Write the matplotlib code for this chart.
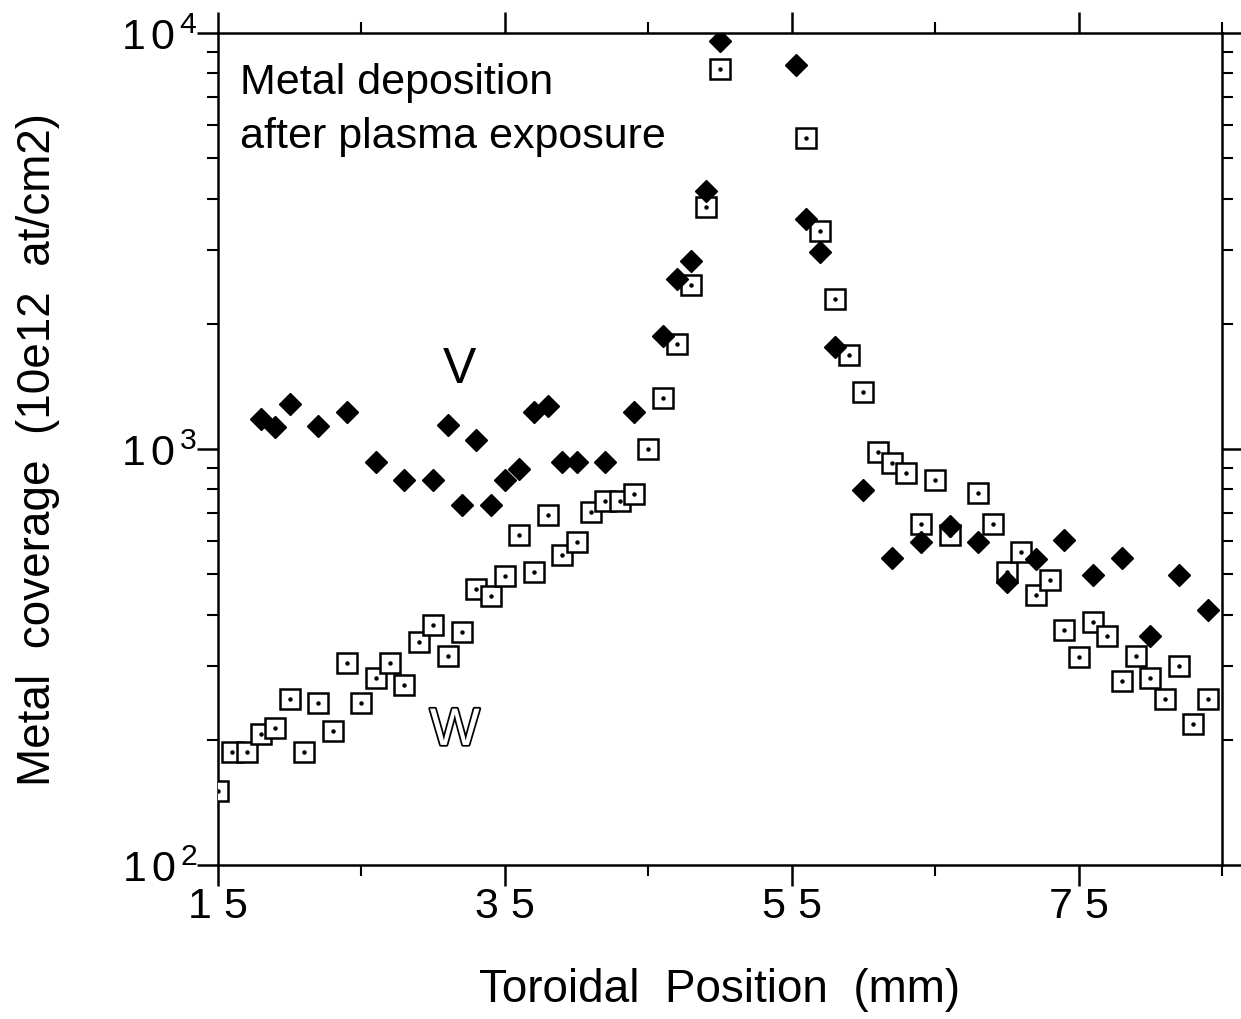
import math
import matplotlib
matplotlib.use("Agg")
import matplotlib.pyplot as plt
import matplotlib.patheffects as pe
from matplotlib.ticker import FixedLocator, LogLocator, NullFormatter, FuncFormatter

# Tungsten (W) coverage, open squares
w_pos = [15, 16, 17, 18, 19, 20, 21, 22, 23, 24, 25, 26, 27, 28, 29, 30, 31, 32,
         33, 34, 35, 36, 37, 38, 39, 40, 41, 42, 43, 44, 45, 46, 47, 48, 49, 50,
         56, 57, 58, 59, 60, 61, 62, 63, 64, 65, 66,
         68, 69, 70, 71, 72, 73, 74, 75, 76, 77, 78, 79, 80, 81, 82, 83, 84]
w_cov = [151, 187, 187, 207, 213, 251, 187, 245, 210, 306, 245, 281, 306, 271, 344, 377, 318, 363,
         460, 444, 495, 621, 506, 693, 556, 597, 706, 750, 750, 780, 1000, 1327, 1786, 2476, 3820, 8190,
         5600, 3340, 2296, 1684, 1371, 984, 925, 875, 661, 841, 621,
         783, 661, 506, 565, 446, 484, 367, 316, 384, 355, 277, 318, 281, 251, 301, 218, 251]

# Vanadium (V) coverage, filled diamonds
v_pos = [18, 19, 20, 22, 24, 26, 28, 30, 31, 32, 33, 34, 35, 36, 37, 38, 39, 40, 42, 44,
         46, 47, 48, 49, 50, 55.3, 56, 57, 58, 60, 62, 64, 66, 68, 70, 72, 74, 76, 78, 80, 82, 84]
v_cov = [1180, 1130, 1283, 1135, 1228, 931, 841, 841, 1142, 733, 1052, 733, 841, 896, 1228, 1268, 931, 931, 931, 1228,
         1872, 2563, 2830, 4168, 9567, 8378, 3573, 2978, 1757, 796, 547, 597, 653, 597, 479, 545, 604, 498, 547, 355, 498, 409]

x_major = [15, 35, 55, 75]
x_minor = [25, 45, 65, 85]

plt.rcParams["font.family"] = ["Liberation Sans", "DejaVu Sans"]
plt.rcParams["mathtext.fontset"] = "custom"
plt.rcParams["mathtext.rm"] = "Liberation Sans"
plt.rcParams["mathtext.it"] = "Liberation Sans"

fig = plt.figure(figsize=(12.41, 10.20), dpi=100)
ax = fig.add_axes([0.1757, 0.151, 0.809, 0.8157])

ax.set_yscale("log")
ax.set_xlim(15, 85)
ax.set_ylim(100, 10000)

ax.plot(w_pos, w_cov, linestyle="none", marker="s", markersize=14,
        markerfacecolor="white", markeredgecolor="black", markeredgewidth=1.8, zorder=3)
ax.plot(w_pos, w_cov, linestyle="none", marker="o", markersize=2.2,
        markerfacecolor="black", markeredgecolor="black", zorder=4)
ax.plot(v_pos, v_cov, linestyle="none", marker="D", markersize=11.5,
        markerfacecolor="black", markeredgecolor="black", markeredgewidth=1, zorder=5)

for side in ["left", "right", "top", "bottom"]:
    ax.spines[side].set_linewidth(1.8)

ax.xaxis.set_major_locator(FixedLocator(x_major))
ax.xaxis.set_minor_locator(FixedLocator(x_minor))
ax.yaxis.set_major_locator(LogLocator(base=10, numticks=10))
ax.yaxis.set_minor_locator(LogLocator(base=10, subs=range(2, 10), numticks=20))
ax.yaxis.set_minor_formatter(NullFormatter())
ax.yaxis.set_major_formatter(FuncFormatter(
    lambda v, p: r"$\mathregular{1\,0^{\,%d}}$" % round(math.log10(v))))

ax.tick_params(axis="both", which="major", direction="out", length=15, width=1.8,
               top=True, right=True, labelsize=31)
ax.tick_params(axis="both", which="minor", direction="out", length=8, width=1.5,
               top=True, right=True)
ax.tick_params(axis="x", which="major", pad=0)
ax.tick_params(axis="y", which="major", pad=0)

ax.set_xticklabels([" ".join(str(v)) for v in x_major])

ax.set_xlabel("Toroidal  Position  (mm)", fontsize=33, labelpad=30)
ax.set_ylabel("Metal  coverage  (10e12  at/cm2)", fontsize=33, labelpad=44)

ax.text(0.022, 0.965, "Metal deposition\nafter plasma exposure", transform=ax.transAxes,
        fontsize=31, va="top", ha="left", linespacing=1.45)
ax.text(31.8, 1560, "V", fontsize=36, ha="center", va="center")
ax.text(31.5, 210, "W", fontsize=38, ha="center", va="center", color="white",
        path_effects=[pe.Stroke(linewidth=2.5, foreground="black"), pe.Normal()])

fig.savefig("out.png", dpi=100, facecolor="white")
